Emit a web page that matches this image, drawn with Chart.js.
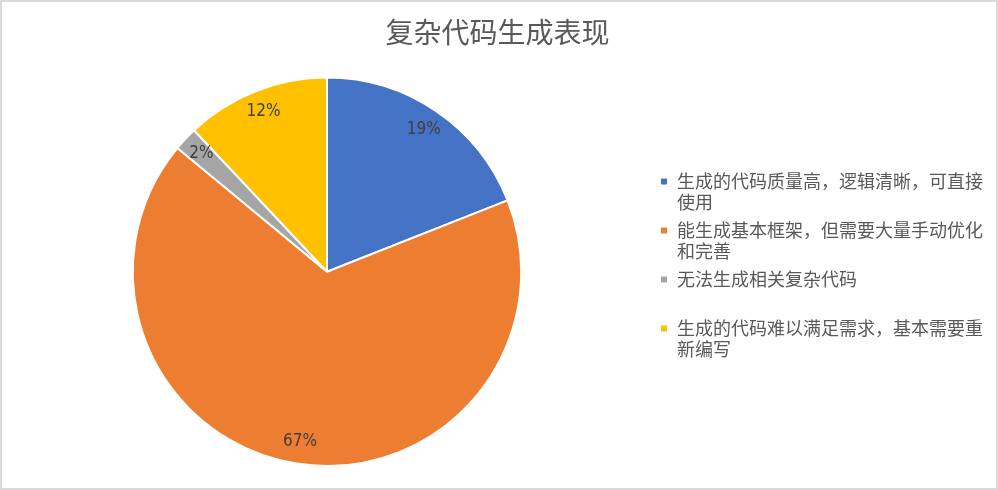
<!DOCTYPE html>
<html>
<head>
<meta charset="utf-8">
<script src="https://cdn.jsdelivr.net/npm/chart.js@4/dist/chart.umd.min.js"></script>
<style>
    html, body { margin: 0; padding: 0; background: #fff; }
    #frame {
        position: absolute; left: 0; top: 0;
        width: 998px; height: 490px;
        box-sizing: border-box;
        border: 2px solid #d9d9d9;
        background: #fff;
    }
    #chart_box { position: absolute; left: 0; top: 0; width: 994px; height: 486px; }
</style>
</head>
<body>
<div id="frame">
    <div id="chart_box"><canvas id="chart_pie_code"></canvas></div>
</div>
<script>
var chart_title = '复杂代码生成表现';

// legend lines, as wrapped in the picture
var arr_labels = [
    ['生成的代码质量高，逻辑清晰，可直接', '使用'],
    ['能生成基本框架，但需要大量手动优化', '和完善'],
    ['无法生成相关复杂代码', ''],
    ['生成的代码难以满足需求，基本需要重', '新编写']
];

var arr_values = [19, 67, 2, 12];

var arr_colors = ['#4472C4', '#ED7D31', '#A5A5A5', '#FFC000'];

// percent labels inside the slices
var pie_pct_labels = {
    id: 'pie_pct_labels',
    afterDatasetsDraw: function (chart) {
        var ctx = chart.ctx;
        var meta = chart.getDatasetMeta(0);
        var total = arr_values.reduce(function (a, b) { return a + b; }, 0);
        ctx.save();
        ctx.font = '17px "Liberation Sans Narrow", "DejaVu Sans Condensed", sans-serif';
        ctx.fillStyle = '#404040';
        ctx.textAlign = 'center';
        ctx.textBaseline = 'middle';
        meta.data.forEach(function (arc, i) {
            var mid = (arc.startAngle + arc.endAngle) / 2;
            var r = arc.outerRadius * 0.887;
            var x = arc.x + Math.cos(mid) * r;
            var y = arc.y + Math.sin(mid) * r;
            ctx.fillText(Math.round(arr_values[i] / total * 100) + '%', x, y);
        });
        ctx.restore();
    }
};

var chart_pie_code = new Chart(document.getElementById('chart_pie_code'), {
    type: 'pie',
    data: {
        labels: arr_labels,
        datasets: [{
            data: arr_values,
            backgroundColor: arr_colors,
            borderColor: '#ffffff',
            borderWidth: 2
        }]
    },
    options: {
        responsive: true,
        maintainAspectRatio: false,
        animation: false,
        layout: {
            padding: { top: 0, bottom: 21, left: 0, right: 3 }
        },
        plugins: {
            title: {
                display: true,
                text: chart_title,
                color: '#595959',
                font: { family: '"Noto Sans CJK SC", sans-serif', size: 28, weight: 'normal' },
                padding: { top: 14, bottom: 27 }
            },
            legend: {
                position: 'right',
                // empty title only pushes the items down
                title: {
                    display: true,
                    text: ' ',
                    font: { size: 10, lineHeight: 1 },
                    padding: { top: 54, bottom: 0 }
                },
                labels: {
                    boxWidth: 8,
                    boxHeight: 8,
                    padding: 8,
                    color: '#595959',
                    font: { family: '"Noto Sans CJK SC", sans-serif', size: 18, lineHeight: 1.14 }
                }
            },
            tooltip: { enabled: false }
        }
    },
    plugins: [pie_pct_labels]
});
</script>
</body>
</html>
